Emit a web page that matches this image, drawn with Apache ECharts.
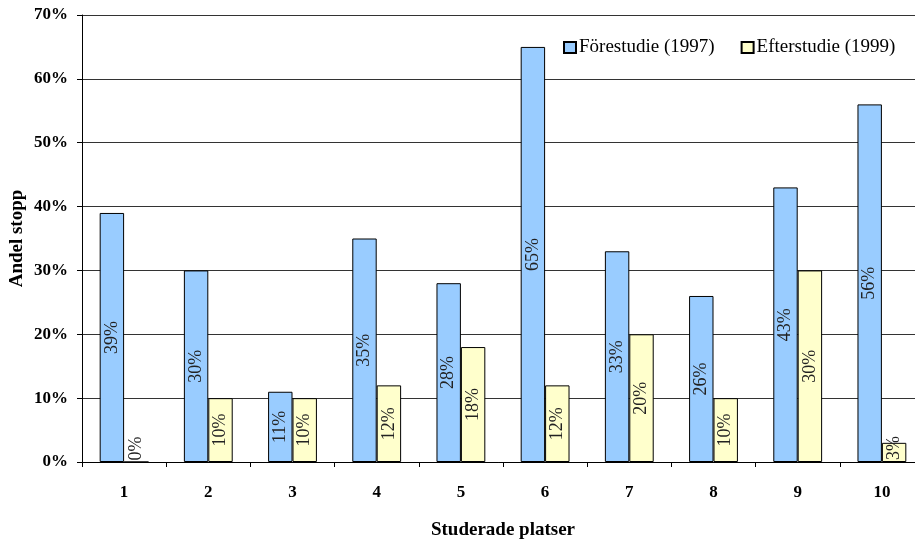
<!DOCTYPE html>
<html>
<head>
<meta charset="utf-8">
<script src="https://cdn.jsdelivr.net/npm/echarts@6/dist/echarts.min.js"></script>
<style>
  html, body { margin: 0; padding: 0; background: #fff; }
  #chart { width: 915px; height: 540px; }
</style>
</head>
<body>
<div id="chart"></div>
<script>
// Share of stops per studied site, before (1997) and after (1999)
const categories = ['1', '2', '3', '4', '5', '6', '7', '8', '9', '10'];
const forestudie = [39, 30, 11, 35, 28, 65, 33, 26, 43, 56];
const efterstudie = [0, 10, 10, 12, 18, 12, 20, 10, 30, 3];
const yTicks = [0, 10, 20, 30, 40, 50, 60, 70];

const FONT = '"Liberation Serif", "DejaVu Serif", serif';

// very short bars get their label anchored at the base, running upward
function withLabels(values) {
  return values.map(v => {
    if (v < 5) {
      return {
        value: v,
        label: { position: 'insideBottom', align: 'left', verticalAlign: 'middle', distance: 2 }
      };
    }
    return { value: v };
  });
}

const labelStyle = {
  show: true,
  position: 'inside',
  rotate: 90,
  fontFamily: FONT,
  fontSize: 18,
  color: '#222',
  formatter: p => Math.round(p.value) + '%'
};

const chart = echarts.init(document.getElementById('chart'), null, { renderer: 'canvas' });
chart.setOption({
  animation: false,
  backgroundColor: '#fff',
  // the plot area runs slightly past the right edge of the canvas
  grid: { left: 82, top: 15, right: -9, bottom: 78, outerBoundsMode: 'none', containLabel: false },
  legend: {
    left: 558,
    top: 33,
    itemWidth: 12,
    itemHeight: 11,
    itemGap: 26,
    icon: 'rect',
    textStyle: { fontFamily: FONT, fontSize: 19, color: '#000', padding: [0, 0, 0, -2] },
    data: ['Förestudie (1997)', 'Efterstudie (1999)']
  },
  xAxis: {
    type: 'category',
    data: categories,
    name: 'Studerade platser',
    nameLocation: 'middle',
    nameGap: 59,
    nameMoveOverlap: false,
    nameTextStyle: { fontFamily: FONT, fontSize: 19, fontWeight: 'bold', color: '#000' },
    axisLine: { lineStyle: { color: '#000', width: 1 } },
    axisTick: { show: true, length: 5, inside: false, lineStyle: { color: '#000' } },
    axisLabel: { fontFamily: FONT, fontSize: 17, fontWeight: 'bold', color: '#000', margin: 22 },
    splitLine: { show: false }
  },
  yAxis: {
    type: 'value',
    min: yTicks[0],
    max: yTicks[yTicks.length - 1],
    interval: 10,
    name: 'Andel stopp',
    nameLocation: 'middle',
    nameGap: 55,
    nameRotate: 90,
    nameMoveOverlap: false,
    nameTextStyle: { fontFamily: FONT, fontSize: 19, fontWeight: 'bold', color: '#000' },
    axisLine: { show: true, lineStyle: { color: '#000', width: 1 } },
    axisTick: { show: true, length: 5, lineStyle: { color: '#000' } },
    axisLabel: { fontFamily: FONT, fontSize: 17, fontWeight: 'bold', color: '#000', margin: 14, formatter: '{value}%' },
    splitLine: { show: true, lineStyle: { color: '#333', width: 1 } }
  },
  series: [
    {
      name: 'Förestudie (1997)',
      type: 'bar',
      data: withLabels(forestudie),
      barGap: '0%',
      barCategoryGap: '42%',
      itemStyle: { color: '#99CCFF', borderColor: '#000', borderWidth: 1 },
      label: labelStyle
    },
    {
      name: 'Efterstudie (1999)',
      type: 'bar',
      data: withLabels(efterstudie),
      barGap: '0%',
      barCategoryGap: '42%',
      itemStyle: { color: '#FFFFCC', borderColor: '#000', borderWidth: 1 },
      label: labelStyle
    }
  ]
});
</script>
</body>
</html>
